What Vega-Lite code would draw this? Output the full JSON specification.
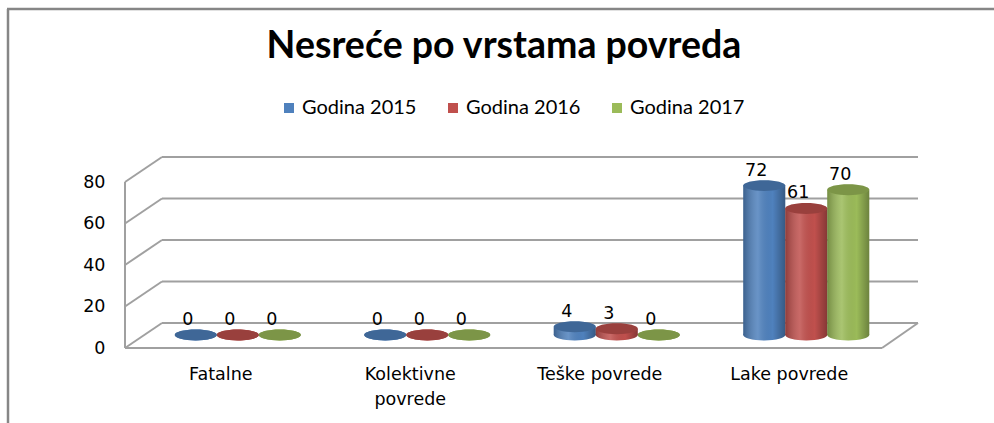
{
  "$schema": "https://vega.github.io/schema/vega-lite/v6.json",
  "autosize": "none",
  "width": 758,
  "height": 166,
  "padding": {"left": 143, "top": 169, "right": 93, "bottom": 88},
  "background": "white",
  "config": {"view": {"stroke": null}},
  "title": {
    "text": "Nesreće po vrstama povreda",
    "font": "Lato",
    "fontSize": 37.5,
    "fontWeight": "bold",
    "color": "#000000",
    "anchor": "middle",
    "frame": "group",
    "baseline": "alphabetic",
    "dx": -18,
    "offset": -88
  },
  "datasets": {
    "main": [
      {"cat": "Fatalne", "series": "Godina 2015", "value": 0},
      {"cat": "Fatalne", "series": "Godina 2016", "value": 0},
      {"cat": "Fatalne", "series": "Godina 2017", "value": 0},
      {"cat": "Kolektivne povrede", "series": "Godina 2015", "value": 0},
      {"cat": "Kolektivne povrede", "series": "Godina 2016", "value": 0},
      {"cat": "Kolektivne povrede", "series": "Godina 2017", "value": 0},
      {"cat": "Teške povrede", "series": "Godina 2015", "value": 4},
      {"cat": "Teške povrede", "series": "Godina 2016", "value": 3},
      {"cat": "Teške povrede", "series": "Godina 2017", "value": 0},
      {"cat": "Lake povrede", "series": "Godina 2015", "value": 72},
      {"cat": "Lake povrede", "series": "Godina 2016", "value": 61},
      {"cat": "Lake povrede", "series": "Godina 2017", "value": 70}
    ],
    "grid": [{"v": 0}, {"v": 20}, {"v": 40}, {"v": 60}, {"v": 80}],
    "one": [{"k": 1}]
  },
  "resolve": {"scale": {"x": "independent"}, "axis": {"x": "independent"}},
  "layer": [
    {
      "layer": [
        {
          "data": {"name": "grid"},
          "mark": {"type": "rule", "stroke": "#A0A0A0", "strokeWidth": 2, "xOffset": 19, "x2Offset": 17, "yOffset": -12},
          "encoding": {
            "x": {"datum": 0, "type": "quantitative", "scale": {"domain": [0, 1], "nice": false, "zero": false}, "axis": null},
            "x2": {"datum": 1},
            "y": {"field": "v", "type": "quantitative", "title": null, "scale": {"domain": [0, 80], "nice": false}}
          }
        },
        {
          "data": {"name": "grid"},
          "mark": {"type": "rule", "stroke": "#A0A0A0", "strokeWidth": 2, "xOffset": -18, "x2Offset": 19, "yOffset": 13, "y2Offset": -12},
          "encoding": {
            "x": {"datum": 0, "type": "quantitative", "axis": null},
            "x2": {"datum": 0},
            "y": {"field": "v", "type": "quantitative", "title": null},
            "y2": {"field": "v"}
          }
        },
        {
          "data": {"name": "one"},
          "mark": {"type": "rule", "stroke": "#A0A0A0", "strokeWidth": 2, "xOffset": -18, "yOffset": 13, "y2Offset": 13},
          "encoding": {
            "x": {"datum": 0, "type": "quantitative", "axis": null},
            "y": {"datum": 0, "type": "quantitative"},
            "y2": {"datum": 80}
          }
        },
        {
          "data": {"name": "one"},
          "mark": {"type": "rule", "stroke": "#A0A0A0", "strokeWidth": 2, "xOffset": -18, "x2Offset": -19, "yOffset": 13},
          "encoding": {
            "x": {"datum": 0, "type": "quantitative", "axis": null},
            "x2": {"datum": 1},
            "y": {"datum": 0, "type": "quantitative"}
          }
        },
        {
          "data": {"name": "one"},
          "mark": {"type": "rule", "stroke": "#A0A0A0", "strokeWidth": 2, "xOffset": -19, "x2Offset": 17, "yOffset": 13, "y2Offset": -12},
          "encoding": {
            "x": {"datum": 1, "type": "quantitative", "axis": null},
            "x2": {"datum": 1},
            "y": {"datum": 0, "type": "quantitative"},
            "y2": {"datum": 0}
          }
        },
        {
          "data": {"name": "one"},
          "mark": {"type": "rule", "stroke": "#868686", "strokeWidth": 2.5, "xOffset": -135, "yOffset": -160, "y2Offset": 100},
          "encoding": {
            "x": {"datum": 0, "type": "quantitative", "axis": null},
            "y": {"datum": 80, "type": "quantitative"},
            "y2": {"datum": 0}
          }
        },
        {
          "data": {"name": "one"},
          "mark": {"type": "rule", "stroke": "#868686", "strokeWidth": 2.5, "xOffset": -136, "x2Offset": 93, "yOffset": -160},
          "encoding": {
            "x": {"datum": 0, "type": "quantitative", "axis": null},
            "x2": {"datum": 1},
            "y": {"datum": 80, "type": "quantitative"}
          }
        }
      ]
    },
    {
      "data": {"name": "main"},
      "encoding": {
        "x": {
          "field": "cat",
          "type": "nominal",
          "sort": null,
          "title": null,
          "scale": {"paddingInner": 0.335, "paddingOuter": 0.1675},
          "axis": {
            "labelExpr": "datum.label == 'Kolektivne povrede' ? ['Kolektivne', 'povrede'] : datum.label",
            "labelAngle": 0,
            "labelFont": "DejaVu Sans",
            "labelFontSize": 17.5,
            "labelColor": "#000000",
            "labelPadding": 30,
            "labelOffset": -17,
            "labelLineHeight": 25,
            "domain": false,
            "ticks": false,
            "grid": false
          }
        },
        "xOffset": {"field": "series", "type": "nominal", "sort": null}
      },
      "layer": [
        {
          "mark": {"type": "point", "shape": "M-1,0A1,0.26,0,1,1,1,0A1,0.26,0,1,1,-1,0Z", "size": 1764, "filled": true, "opacity": 1, "strokeWidth": 0},
          "encoding": {
            "y": {"datum": 0, "type": "quantitative"},
            "color": {"field": "series", "type": "nominal"}
          }
        },
        {
          "mark": {"type": "point", "shape": "M-1,0A1,0.26,0,1,1,1,0A1,0.26,0,1,1,-1,0Z", "size": 1764, "filled": true, "opacity": 1, "strokeWidth": 0,
            "fill": {"gradient": "linear", "x1": 0, "y1": 0, "x2": 1, "y2": 0, "stops": [
              {"offset": 0, "color": "rgba(0,0,0,0.25)"},
              {"offset": 0.35, "color": "rgba(255,255,255,0.15)"},
              {"offset": 0.7, "color": "rgba(0,0,0,0)"},
              {"offset": 1, "color": "rgba(0,0,0,0.3)"}]}},
          "encoding": {
            "y": {"datum": 0, "type": "quantitative"}
          }
        },
        {
          "mark": {"type": "bar"},
          "encoding": {
            "y": {
              "field": "value",
              "type": "quantitative",
              "title": null,
              "axis": {
                "values": [0, 20, 40, 60, 80],
                "grid": false,
                "domain": false,
                "ticks": false,
                "labelFont": "DejaVu Sans",
                "labelFontSize": 17.5,
                "labelColor": "#000000",
                "labelPadding": 38,
                "labelOffset": 13
              }
            },
            "color": {
              "field": "series",
              "type": "nominal",
              "scale": {"domain": ["Godina 2015", "Godina 2016", "Godina 2017"], "range": ["#4F81BD", "#C0504D", "#9BBB59"]},
              "legend": {
                "orient": "none",
                "legendX": 136,
                "legendY": -71,
                "direction": "horizontal",
                "columns": 3,
                "title": null,
                "symbolType": "square",
                "symbolSize": 100,
                "symbolStrokeWidth": 0,
                "labelFont": "Lato",
                "labelFontSize": 20,
                "labelColor": "#000000",
                "labelOffset": 3,
                "columnPadding": 26
              }
            }
          }
        },
        {
          "mark": {"type": "bar",
            "fill": {"gradient": "linear", "x1": 0, "y1": 0, "x2": 1, "y2": 0, "stops": [
              {"offset": 0, "color": "rgba(0,0,0,0.25)"},
              {"offset": 0.35, "color": "rgba(255,255,255,0.15)"},
              {"offset": 0.7, "color": "rgba(0,0,0,0)"},
              {"offset": 1, "color": "rgba(0,0,0,0.3)"}]}},
          "encoding": {
            "y": {"field": "value", "type": "quantitative", "title": null}
          }
        },
        {
          "mark": {"type": "point", "shape": "M-1,0A1,0.26,0,1,1,1,0A1,0.26,0,1,1,-1,0Z", "size": 1764, "filled": true, "opacity": 1, "strokeWidth": 0},
          "encoding": {
            "y": {"field": "value", "type": "quantitative", "title": null},
            "color": {"field": "series", "type": "nominal"}
          }
        },
        {
          "mark": {"type": "point", "shape": "M-1,0A1,0.26,0,1,1,1,0A1,0.26,0,1,1,-1,0Z", "size": 1764, "filled": true, "opacity": 0.2, "fill": "#000000", "strokeWidth": 0},
          "encoding": {
            "y": {"field": "value", "type": "quantitative", "title": null}
          }
        },
        {
          "mark": {"type": "text", "font": "DejaVu Sans", "fontSize": 17.5, "color": "#000000", "baseline": "alphabetic", "align": "center", "dx": -8, "dy": -10},
          "encoding": {
            "y": {"field": "value", "type": "quantitative", "title": null},
            "text": {"field": "value", "type": "quantitative"}
          }
        }
      ]
    }
  ]
}
